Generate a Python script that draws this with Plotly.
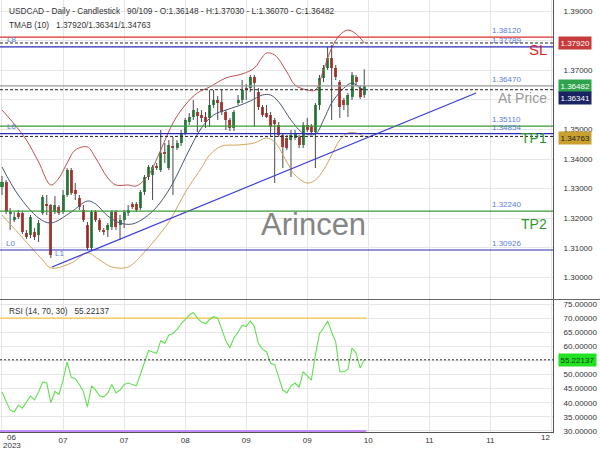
import numpy as np
import plotly.graph_objects as go

# ---------------- data ----------------
idx = list(range(90))
opens = [1.33054,1.33223,1.32142,1.31939,1.32176,1.32176,1.31500,1.31432,1.31534,1.31432,
         1.32176,1.32480,1.32446,1.32209,1.32378,1.32209,1.32784,1.33628,1.32953,1.32682,
         1.32277,1.31770,1.30993,1.32209,1.31939,1.31601,1.31601,1.31703,1.32209,1.31770,
         1.31939,1.32176,1.32480,1.32480,1.32345,1.32885,1.33392,1.33459,1.33764,1.33628,
         1.34236,1.33696,1.34439,1.34372,1.34541,1.34878,1.35250,1.35419,1.35588,1.35486,
         1.35419,1.35385,1.35824,1.35993,1.35926,1.35588,1.35318,1.35047,1.35892,1.35993,
         1.36399,1.36399,1.36770,1.36264,1.35757,1.35554,1.35486,1.35318,1.35149,1.34811,
         1.34709,1.34642,1.34709,1.34743,1.34473,1.35149,1.35115,1.34912,1.35824,1.36736,
         1.37074,1.37412,1.37074,1.36601,1.35993,1.35824,1.36095,1.36770,1.36399,1.36148]
highs = [1.33426,1.33291,1.32345,1.32209,1.32277,1.32243,1.31601,1.32108,1.31669,1.31939,
         1.32784,1.32784,1.32480,1.32750,1.32446,1.32953,1.33696,1.33696,1.33189,1.32784,
         1.32446,1.31872,1.32277,1.32277,1.32006,1.31669,1.31838,1.32277,1.32277,1.32108,
         1.32277,1.32446,1.32547,1.32547,1.32953,1.33459,1.33797,1.33797,1.33865,1.34980,
         1.34541,1.34642,1.34743,1.34642,1.34980,1.35385,1.35554,1.35993,1.35723,1.35655,
         1.35588,1.36331,1.36331,1.36128,1.36331,1.35655,1.35385,1.35655,1.36162,1.36669,
         1.36534,1.36838,1.36838,1.36399,1.35824,1.35824,1.35588,1.35385,1.35250,1.34878,
         1.34811,1.34980,1.34980,1.34811,1.35250,1.35385,1.35182,1.35892,1.36838,1.37176,
         1.37784,1.37851,1.37176,1.36669,1.36061,1.36230,1.36939,1.36838,1.36500,1.37030]
lows = [1.32784,1.32142,1.31601,1.31872,1.31973,1.31466,1.31297,1.31331,1.31264,1.31196,
        1.32108,1.32108,1.30655,1.32142,1.32108,1.32142,1.32716,1.32784,1.32615,1.32277,
        1.31872,1.30926,1.30926,1.31872,1.31534,1.31432,1.31365,1.31601,1.31601,1.31264,
        1.31669,1.32074,1.32311,1.32209,1.32277,1.32784,1.33291,1.32615,1.33628,1.33561,
        1.33865,1.33628,1.32784,1.34304,1.34439,1.34811,1.35149,1.35318,1.34912,1.35250,
        1.35047,1.35081,1.35723,1.35318,1.35486,1.34980,1.34946,1.34946,1.35824,1.35892,
        1.35993,1.36264,1.35081,1.35655,1.35419,1.35385,1.34777,1.33189,1.34743,1.33696,
        1.34304,1.33392,1.34642,1.34372,1.34372,1.34912,1.34811,1.33696,1.35655,1.36601,
        1.37007,1.35318,1.36669,1.35385,1.35655,1.35419,1.35993,1.36466,1.36027,1.36070]
closes = [1.33223,1.32209,1.32176,1.32041,1.32041,1.31534,1.31365,1.32041,1.31365,1.31838,
          1.32716,1.32412,1.30757,1.32446,1.32176,1.32784,1.33628,1.32851,1.32818,1.32378,
          1.31939,1.30993,1.32209,1.31939,1.31601,1.31534,1.31770,1.32209,1.31703,1.31939,
          1.32209,1.32277,1.32378,1.32277,1.32885,1.33392,1.33730,1.33730,1.33696,1.34203,
          1.34169,1.34473,1.34372,1.34541,1.34878,1.35318,1.35419,1.35655,1.35453,1.35385,
          1.35250,1.35824,1.35993,1.35892,1.35588,1.35318,1.35047,1.35588,1.35993,1.36331,
          1.36331,1.36770,1.36568,1.35757,1.35486,1.35419,1.35081,1.35182,1.34811,1.34405,
          1.34372,1.34811,1.34878,1.34473,1.35149,1.34980,1.34912,1.35824,1.36736,1.37074,
          1.37412,1.37074,1.36770,1.35757,1.35824,1.36162,1.36838,1.36601,1.36095,1.36482]

# TMA bands (read at turning points)
up_x = [0,3,6,9,12,14,16,18,21,23,26,28,31,33,36,39,42,45,48,51,55,59,62,64,65,67,70,72,75,77,79,81,83,85,87,89]
up_y = [1.35655,1.35182,1.34642,1.33899,1.33122,1.33358,1.33865,1.34304,1.34405,1.34034,
        1.33358,1.33122,1.33122,1.33088,1.33459,1.34304,1.35216,1.35824,1.36230,1.36432,
        1.36736,1.36872,1.37074,1.37446,1.37581,1.37514,1.36939,1.36500,1.36331,1.36331,
        1.37007,1.37750,1.38189,1.38358,1.38223,1.37920]
mid_x = [0,4,9,12,17,21,23,26,29,32,35,38,41,43,46,49,52,55,58,61,64,66,68,71,74,77,79,81,84,86,88,89]
mid_y = [1.33730,1.32784,1.32007,1.31838,1.32209,1.32581,1.32480,1.32074,1.31838,1.31804,
         1.32007,1.32378,1.32953,1.33459,1.34304,1.35047,1.35486,1.35655,1.35791,1.35959,
         1.36162,1.36162,1.35926,1.35318,1.34878,1.34845,1.35318,1.35892,1.36399,1.36568,
         1.36399,1.36341]
low_x = [0,4,10,12,17,21,24,27,31,35,38,41,44,46,49,51,54,58,62,65,67,70,72,75,77,79,81,83,85,87,89]
low_y = [1.32108,1.31500,1.30588,1.30318,1.30486,1.30824,1.30588,1.30351,1.30351,1.30858,
         1.31331,1.31872,1.32615,1.33088,1.33696,1.34135,1.34439,1.34473,1.34541,1.34709,
         1.34574,1.33899,1.33459,1.33189,1.33291,1.33628,1.34135,1.34642,1.34878,1.34878,
         1.34763]

rsi = [43.8,40.3,37.4,36.7,39.2,38.1,40.3,42.4,41.0,43.8,
       47.4,47.0,40.0,44.0,43.0,48.0,54.5,49.0,48.5,46.5,
       44.0,38.5,46.0,44.5,42.5,42.0,43.5,46.5,43.5,44.5,
       46.5,47.0,46.5,46.0,50.0,54.0,58.5,58.0,57.5,62.0,
       61.0,64.0,64.5,66.0,68.0,69.5,71.0,72.0,70.0,68.6,
       68.0,69.5,70.5,70.0,66.0,62.0,59.5,63.0,65.0,67.5,
       67.0,69.0,67.0,61.0,59.0,58.0,54.0,53.5,49.0,44.5,
       43.5,46.0,47.0,45.5,51.0,49.5,48.0,57.0,64.5,66.5,
       69.0,65.0,61.5,51.0,51.0,51.8,59.4,57.6,52.3,55.22137]
rsi_upper, rsi_lower = 70, 30

levels = [1.38120, 1.37789, 1.36470, 1.35110, 1.34854, 1.32240, 1.30926]
level_colors = ['#d9302c', '#2b2bb8', '#9a9a9a', '#3a9a3a', '#2b2bb8', '#3a9a3a', '#2b2bb8']
tma_last = [1.37920, 1.36341, 1.34763]
close_last = 1.36482
trend_x = [12.3, 116.5]
trend_y = [1.30351, 1.36230]

tick_idx = [0, 15, 30, 45, 60, 75, 90, 105, 120, 135]
tick_txt = ['', '07', '07', '08', '09', '09', '10', '11', '11', '']
price_ticks = [1.30, 1.31, 1.32, 1.33, 1.34, 1.35, 1.36, 1.37, 1.38, 1.39]
price_hidden = [1.36, 1.38]          # covered by value boxes in the reference
rsi_ticks = [30, 35, 40, 45, 50, 55, 60, 65, 70, 75]
rsi_hidden = [55]

# ---------------- layout helpers ----------------
W, H = 600, 450
PW, PH = 553, 432
def px(x): return x / PW
def py(y): return 1 - y / PH

FONT = 'Liberation Sans, Arial, sans-serif'
GRID = '#e6e6e6'
GREEN, RED = '#2e9e48', '#dc3a30'

o, h, l, c = map(np.array, (opens, highs, lows, closes))
fig = go.Figure()

# wicks
wx, wy = [], []
for i, lo_, hi_ in zip(idx, lows, highs):
    wx += [i, i, None]
    wy += [lo_, hi_, None]
fig.add_trace(go.Scatter(x=wx, y=wy, mode='lines', line=dict(color='#4a4a4a', width=1),
                         hoverinfo='skip', xaxis='x', yaxis='y'))
# bodies
fig.add_trace(go.Bar(x=idx, y=np.maximum(np.abs(c - o), 0.00015), base=np.minimum(o, c), width=0.74,
                     marker=dict(color=[GREEN if cc >= oo else RED for oo, cc in zip(opens, closes)],
                                 line=dict(width=0)), xaxis='x', yaxis='y'))
# bands
for bx, by, col in [(up_x, up_y, '#c0504d'), (mid_x, mid_y, '#4a5878'), (low_x, low_y, '#d1a55b')]:
    fig.add_trace(go.Scatter(x=bx, y=by, mode='lines', line=dict(color=col, width=1, shape='spline', smoothing=1.0),
                             hoverinfo='skip', xaxis='x', yaxis='y'))
# trend line
fig.add_trace(go.Scatter(x=trend_x, y=trend_y, mode='lines', line=dict(color='#3c3cdc', width=1.3),
                         xaxis='x', yaxis='y'))

# RSI
fig.add_trace(go.Scatter(x=[idx[0] - 0.5, idx[-1] + 0.5], y=[rsi_upper] * 2, mode='lines',
                         line=dict(color='#f3c64a', width=1.2), xaxis='x2', yaxis='y2'))
fig.add_trace(go.Scatter(x=[idx[0] - 0.5, idx[-1] + 0.5], y=[rsi_lower] * 2, mode='lines',
                         line=dict(color='#c28af5', width=2), xaxis='x2', yaxis='y2'))
fig.add_trace(go.Scatter(x=idx, y=rsi, mode='lines', line=dict(color='#62e052', width=1.1),
                         xaxis='x2', yaxis='y2'))

shapes = []
for lv, col in zip(levels, level_colors):
    shapes.append(dict(type='line', xref='paper', x0=0, x1=1, yref='y', y0=lv, y1=lv,
                       line=dict(color=col, width=1.2)))
for lv in tma_last:
    shapes.append(dict(type='line', xref='paper', x0=0, x1=1, yref='y', y0=lv, y1=lv,
                       line=dict(color='#222', width=1, dash='3px,2px')))
shapes.append(dict(type='line', xref='paper', x0=0, x1=1, yref='y2', y0=rsi[-1], y1=rsi[-1],
                   line=dict(color='#333', width=1, dash='2px,2px')))
# separator between panels
shapes.append(dict(type='line', xref='paper', x0=0, x1=W / PW, yref='paper', y0=py(299.5), y1=py(299.5),
                   line=dict(color='#666', width=1)))

ann = []
def text(x, y, s, size=8, color='#333', xanchor='left', yanchor='middle', xref='paper', yref='paper', **kw):
    ann.append(dict(x=x, y=y, xref=xref, yref=yref, text=s, showarrow=False, xanchor=xanchor,
                    yanchor=yanchor, font=dict(family=FONT, size=size, color=color), **kw))

text(px(7), py(11), f'USDCAD - Daily - Candlestick   90/109 - O:{opens[-1]:.5f} - H:{highs[-1]:.5f} - L:{lows[-1]:.5f} - C:{closes[-1]:.5f}', size=8.3)
text(px(7), py(25), 'TMAB (10)   ' + '/'.join(f'{v:.5f}' for v in tma_last), size=8.3)
text(px(7), py(311), f'RSI (14, {rsi_upper}, {rsi_lower})   {rsi[-1]:.5f}', size=8.3)

for lv in levels:
    text(px(490), lv, f'{lv:.5f}', size=8, color='#5a7ddb', yref='y', yanchor='bottom')

text(px(5), py(39), 'L8', size=8, color='#5a7ddb')
text(px(5), py(127), 'L6', size=8, color='#5a7ddb')
text(px(4), py(244), 'L0', size=8, color='#5a7ddb')
text(px(53), py(254), 'L1', size=8, color='#5a7ddb')

text(px(549), py(49), 'SL', size=15, color='#e02424', xanchor='right')
text(px(549), py(98), 'At Price', size=14, color='#9a9a9a', xanchor='right')
text(px(549), py(138), 'TP1', size=14, color='#2e9a2e', xanchor='right')
text(px(549), py(224), 'TP2', size=14, color='#2e9a2e', xanchor='right')

text(px(313), py(224), 'Arincen', size=31, color='#858585', xanchor='center')

# right-axis value boxes
for val, bg, fg, ypix in [(tma_last[0], '#c63b3b', '#ffffff', None),
                          (close_last, '#2ea24c', '#ffffff', None),
                          (tma_last[1], '#1b2462', '#ffffff', 98),
                          (tma_last[2], '#c9a02e', '#222222', 138)]:
    if ypix is None:
        text(1, val, f'{val:.5f}', size=8, color=fg, yref='y', bgcolor=bg, borderpad=1.5, xshift=5)
    else:
        text(1, py(ypix), f'{val:.5f}', size=8, color=fg, bgcolor=bg, borderpad=1.5, xshift=5)
text(1, rsi[-1], f'{rsi[-1]:.5f}', size=8, color='#114411', yref='y2', bgcolor='#22e022', borderpad=1.5, xshift=5)

# first / last x labels (shifted inside)
text(px(11.5), py(437.5), '06', size=8, color='#333', xanchor='center')
text(px(11.5), py(445.5), '2023', size=8, color='#333', xanchor='center')
text(px(545), py(437.5), '12', size=8, color='#333', xanchor='center')

fig.update_layout(
    width=W, height=H, margin=dict(l=0, r=W - PW, t=0, b=H - PH),
    paper_bgcolor='white', plot_bgcolor='white', showlegend=False, bargap=0,
    font=dict(family=FONT, size=8, color='#333'),
    shapes=shapes, annotations=ann,
    xaxis=dict(domain=[0, 1], range=[-0.49, 135.38], anchor='y', tickvals=tick_idx, showticklabels=False,
               showgrid=True, gridcolor=GRID, zeroline=False, showline=False, ticks=''),
    xaxis2=dict(domain=[0, 1], range=[-0.49, 135.38], anchor='y2', matches='x', tickvals=tick_idx, ticktext=tick_txt,
                showgrid=True, gridcolor=GRID, zeroline=False, showline=True, linecolor='#555', linewidth=1,
                ticks='', tickfont=dict(size=8, color='#333')),
    yaxis=dict(domain=[py(299), 1], range=[1.292703, 1.393716], side='right',
               tickvals=price_ticks,
               ticktext=['' if any(abs(t - hv) < 1e-9 for hv in price_hidden) else f'{t:.5f}' for t in price_ticks],
               showgrid=True, gridcolor=GRID, zeroline=False, showline=True,
               linecolor='#555', linewidth=1, ticks='', ticklabelstandoff=8, tickfont=dict(size=8, color='#333')),
    yaxis2=dict(domain=[0, py(300)], range=[29.642, 76.417], side='right',
                tickvals=rsi_ticks,
                ticktext=['' if t in rsi_hidden else f'{t:.5f}' for t in rsi_ticks],
                showgrid=True, gridcolor=GRID, zeroline=False, showline=True,
                linecolor='#555', linewidth=1, ticks='', ticklabelstandoff=8, tickfont=dict(size=8, color='#333')),
)

fig.write_html('out.html')
